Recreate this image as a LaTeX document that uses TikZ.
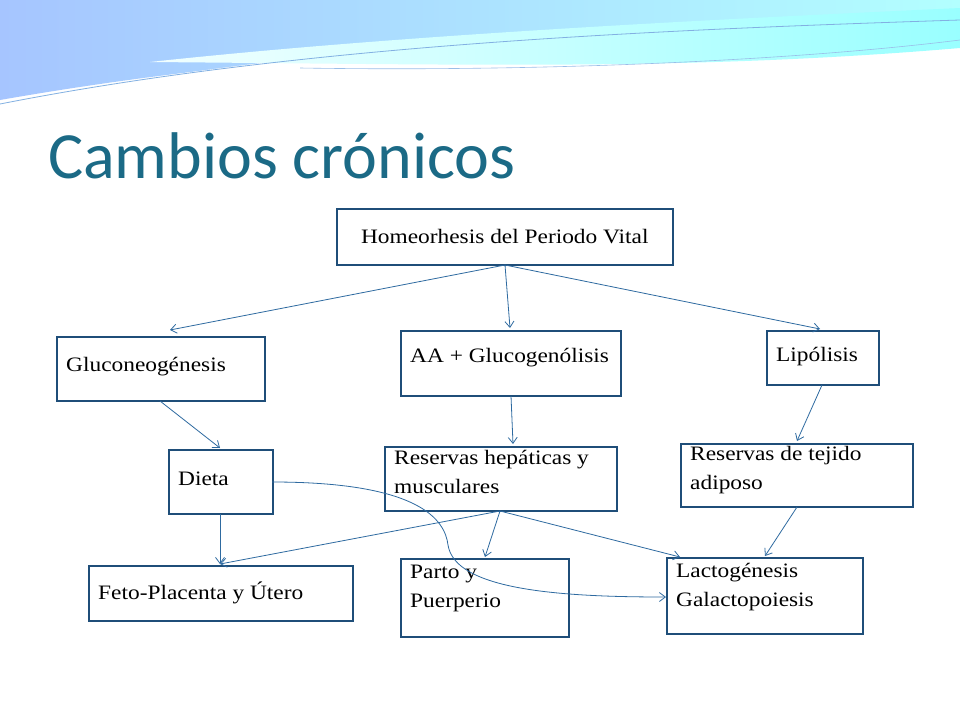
\documentclass[tikz,border=0pt]{standalone}
\usepackage{fontspec}
\setmainfont{Liberation Serif}[FakeStretch=1.14]
\newfontfamily\titlefont{Carlito}
\usetikzlibrary{arrows.meta}
\definecolor{bx}{HTML}{1F4E79}
\definecolor{ar}{HTML}{2E6AA0}
\definecolor{tt}{HTML}{1B6A86}
\tikzset{
 boxn/.style={draw=bx,line width=1.6pt,fill=white,inner sep=0pt,anchor=north west},
 lbl/.style={anchor=west,inner sep=0pt,align=left,font=\fontsize{20.5}{29}\selectfont},
 lbl2/.style={anchor=north west,inner sep=0pt,align=left,font=\fontsize{20.5}{29}\selectfont},
 arr/.style={draw=ar,line width=0.8pt,-{Straight Barb[length=6pt,width=9pt]}}
}
\begin{document}
\begin{tikzpicture}[x=1pt,y=-1pt]
\useasboundingbox (0,0) rectangle (960,720);
\fill[white] (0,0) rectangle (960,720);
% waves
\shade[left color=cyan!35!blue!35,right color=cyan!30] (0,0) -- (960,0) -- (960,30) .. controls (700,50) and (400,30) .. (0,100) -- cycle;
\fill[white] (0,104) .. controls (300,45) and (600,30) .. (960,22) -- (960,60) .. controls (700,90) and (400,60) .. (0,112) -- cycle;
\shade[left color=cyan!5,right color=cyan!40] (150,62) .. controls (400,35) and (700,20) .. (960,8) -- (960,48) .. controls (700,70) and (500,65) .. (150,62) -- cycle;
\draw[cyan!60!blue!50,line width=0.8pt] (0,104) .. controls (300,45) and (650,30) .. (960,20);
\draw[cyan!60!blue!40,line width=0.6pt] (300,68) .. controls (550,72) and (800,60) .. (960,40);
\node[anchor=base west,inner sep=0pt,text=tt,font=\titlefont\fontsize{66}{66}\selectfont] (title) at (48,178) {Cambios crónicos};
% boxes
\node[boxn,minimum width=336pt,minimum height=56pt] (H) at (336,208) {};
\node[lbl,anchor=center] (Ht) at (H.center) {Homeorhesis del Periodo Vital};
\node[boxn,minimum width=208pt,minimum height=64pt] (G) at (56,336) {};
\node[lbl] (Gt) at (66,367) {Gluconeogénesis};
\node[boxn,minimum width=220pt,minimum height=65pt] (A) at (400,330) {};
\node[lbl] (At) at (410,358) {AA + Glucogenólisis};
\node[boxn,minimum width=112pt,minimum height=54pt] (L) at (766,330) {};
\node[lbl] (Lt) at (776,357) {Lipólisis};
\node[boxn,minimum width=104pt,minimum height=64pt] (D) at (168,449) {};
\node[lbl] (Dt) at (178,479) {Dieta};
\node[boxn,minimum width=232pt,minimum height=64pt] (R) at (384,446) {};
\node[lbl2] (Rt) at (394,450) {Reservas hepáticas y\\musculares};
\node[boxn,minimum width=232pt,minimum height=63pt] (T) at (680,443) {};
\node[lbl2] (Tt) at (690,446) {Reservas de tejido\\adiposo};
\node[boxn,minimum width=264pt,minimum height=55pt] (F) at (88,565) {};
\node[lbl] (Ft) at (98,593) {Feto-Placenta y Útero};
\node[boxn,minimum width=168pt,minimum height=78pt] (P) at (400,558) {};
\node[lbl2] (Pt) at (410,565) {Parto y\\Puerperio};
\node[boxn,minimum width=196pt,minimum height=76pt] (La) at (666,557) {};
\node[lbl2] (Lat) at (676,563) {Lactogénesis\\Galactopoiesis};
% connectors
\coordinate (h1) at (505,265);
\coordinate (r1) at (500,511);
\draw[arr] (h1) -- (170,330);
\draw[arr] (h1) -- (510,328);
\draw[arr] (h1) -- (820,329);
\draw[arr] (160,401) -- (220,448);
\draw[arr] (511,396) -- (513,444);
\draw[arr] (822,385) -- (797,441);
\draw[arr] (220,514) -- (220,564);
\draw[arr] (r1) -- (220,564);
\draw[arr] (r1) -- (485,557);
\draw[arr] (r1) -- (680,557);
\draw[arr] (797,507) -- (765,556);
\draw[arr] (272,482) .. controls (420,482) and (445,520) .. (448,545) .. controls (455,590) and (560,597) .. (666,597);
\end{tikzpicture}
\end{document}
